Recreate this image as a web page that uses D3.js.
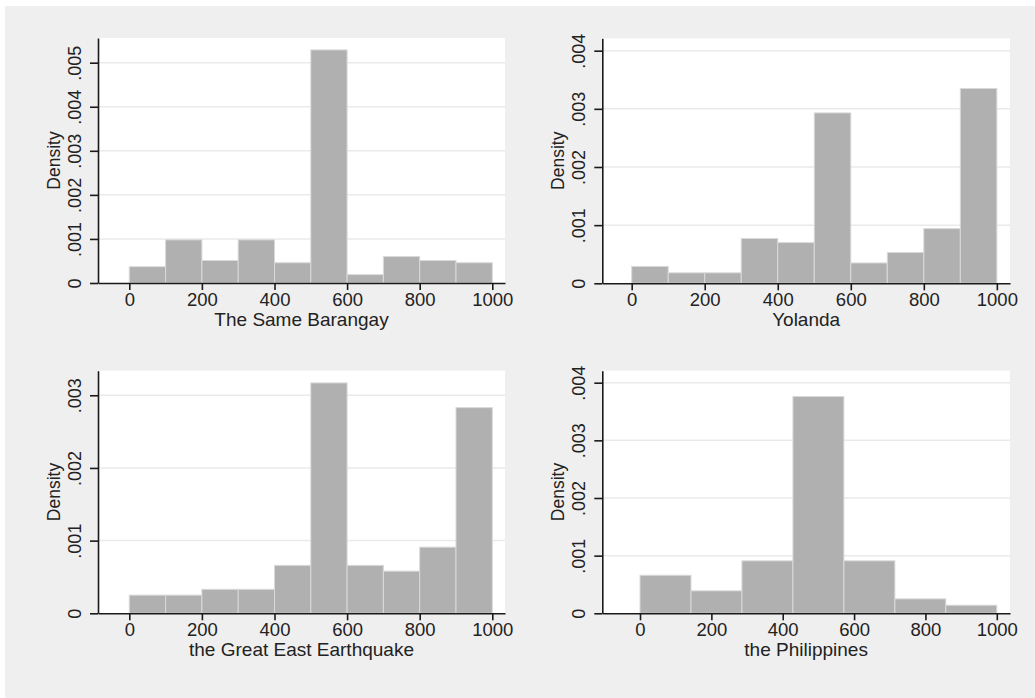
<!DOCTYPE html>
<html>
<head>
<meta charset="utf-8">
<script src="https://cdn.jsdelivr.net/npm/d3@7"></script>
<style>
  body { margin: 0; background: #fff; }
  svg { display: block; font-family: "Liberation Sans", Arial, sans-serif; }
</style>
</head>
<body>
<svg id="chart" width="1035" height="698"></svg>
<script>
// bin edges
var edges10 = [0, 100, 200, 300, 400, 500, 600, 700, 800, 900, 1000];
var edges7 = [0, 142.9, 285.7, 428.6, 571.4, 714.3, 857.1, 1000];

// densities
var sameBarangay = [0.00037, 0.00098, 0.00051, 0.00098, 0.00046, 0.00529, 0.00019, 0.00060, 0.00051, 0.00046];
var yolanda = [0.00029, 0.00018, 0.00018, 0.00077, 0.00070, 0.00293, 0.00035, 0.00053, 0.00094, 0.00335];
var greatEast = [0.00025, 0.00025, 0.00033, 0.00033, 0.00066, 0.00317, 0.00066, 0.00058, 0.00091, 0.00283];
var philippines = [0.00066, 0.00039, 0.00091, 0.00376, 0.00091, 0.00025, 0.00014];

var xTicks = [0, 200, 400, 600, 800, 1000];
var yTicks5 = [0, 0.001, 0.002, 0.003, 0.004, 0.005];
var yTicks4 = [0, 0.001, 0.002, 0.003, 0.004];
var yTicks3 = [0, 0.001, 0.002, 0.003];

var titles = ["The Same Barangay", "Yolanda", "the Great East Earthquake", "the Philippines"];

// layout per panel (plot box in px, axis extents)
var panels = [
  { title: titles[0], edges: edges10, dens: sameBarangay, yTicks: yTicks5,
    left: 98, right: 505, top: 38, bottom: 283, xMin: -86.2, xMax: 1035, yMax: 0.00556 },
  { title: titles[1], edges: edges10, dens: yolanda, yTicks: yTicks4,
    left: 602.3, right: 1010, top: 38.3, bottom: 283.3, xMin: -80.5, xMax: 1036, yMax: 0.004213 },
  { title: titles[2], edges: edges10, dens: greatEast, yTicks: yTicks3,
    left: 98, right: 505, top: 370.7, bottom: 613.3, xMin: -86.2, xMax: 1035, yMax: 0.003338 },
  { title: titles[3], edges: edges7, dens: philippines, yTicks: yTicks4,
    left: 602.3, right: 1010, top: 370.7, bottom: 613.3, xMin: -105.7, xMax: 1037, yMax: 0.004208 }
];

var svg = d3.select("#chart");

svg.append("rect")
  .attr("x", 5).attr("y", 6)
  .attr("width", 1030).attr("height", 692)
  .attr("fill", "#efefef");

var fmtY = function(d) {
  return d === 0 ? "0" : d3.format(".3f")(d).replace(/^0/, "");
};

panels.forEach(function(p) {
  var x = d3.scaleLinear().domain([p.xMin, p.xMax]).range([p.left, p.right]);
  var y = d3.scaleLinear().domain([0, p.yMax]).range([p.bottom, p.top]);

  var g = svg.append("g");

  g.append("rect")
    .attr("x", p.left).attr("y", p.top)
    .attr("width", p.right - p.left).attr("height", p.bottom - p.top)
    .attr("fill", "#fff");

  // grid lines
  g.selectAll(".grid")
    .data(p.yTicks.filter(function(d) { return d > 0; }))
    .enter().append("line")
    .attr("x1", p.left).attr("x2", p.right)
    .attr("y1", function(d) { return y(d); })
    .attr("y2", function(d) { return y(d); })
    .attr("stroke", "#eaeaea")
    .attr("stroke-width", 1.5);

  // bars
  g.selectAll(".bar")
    .data(p.dens)
    .enter().append("rect")
    .attr("x", function(d, i) { return x(p.edges[i]); })
    .attr("width", function(d, i) { return x(p.edges[i + 1]) - x(p.edges[i]); })
    .attr("y", function(d) { return y(d); })
    .attr("height", function(d) { return y(0) - y(d); })
    .attr("fill", "#b0b0b0")
    .attr("stroke", "#d9d9d9")
    .attr("stroke-width", 1);

  // x axis
  var xa = g.append("g")
    .attr("transform", "translate(0," + p.bottom + ")")
    .call(d3.axisBottom(x).tickValues(xTicks).tickFormat(d3.format("d"))
      .tickSize(7).tickSizeOuter(0).tickPadding(3));
  xa.selectAll("text")
    .attr("font-size", "18.5px")
    .attr("font-family", "Liberation Sans, Arial, sans-serif")
    .attr("fill", "#222");

  // y axis
  var ya = g.append("g")
    .attr("transform", "translate(" + p.left + ",0)")
    .call(d3.axisLeft(y).tickValues(p.yTicks).tickFormat(fmtY).tickSize(8).tickSizeOuter(0));
  ya.selectAll("text")
    .attr("x", null).attr("dy", null)
    .attr("text-anchor", "middle")
    .attr("transform", "translate(-17,0) rotate(-90)")
    .attr("font-size", "18px")
    .attr("font-family", "Liberation Sans, Arial, sans-serif")
    .attr("fill", "#222");

  [xa, ya].forEach(function(a) {
    a.selectAll("path, line").attr("stroke", "#1a1a1a").attr("stroke-width", 1.6);
  });

  // y title
  g.append("text")
    .attr("transform", "translate(" + (p.left - 38) + "," + ((p.top + p.bottom) / 2) + ") rotate(-90)")
    .attr("text-anchor", "middle")
    .attr("font-size", "17.5px")
    .attr("fill", "#222")
    .text("Density");

  // x title
  g.append("text")
    .attr("x", (p.left + p.right) / 2)
    .attr("y", p.bottom + 43)
    .attr("text-anchor", "middle")
    .attr("font-size", "19px")
    .attr("fill", "#222")
    .text(p.title);
});
</script>
</body>
</html>
